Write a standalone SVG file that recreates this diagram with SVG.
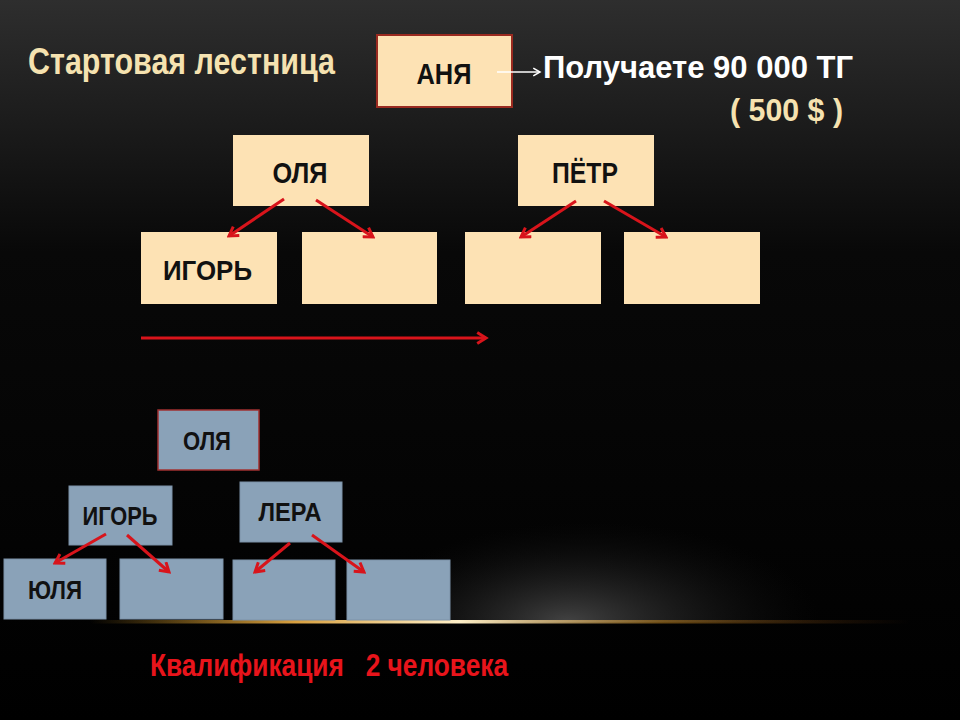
<svg xmlns="http://www.w3.org/2000/svg" width="960" height="720" viewBox="0 0 960 720">
<defs>
<linearGradient id="bg" x1="0" y1="0" x2="0" y2="1">
<stop offset="0" stop-color="#2e2e2e"/>
<stop offset="0.35" stop-color="#080808"/>
<stop offset="1" stop-color="#000"/>
</linearGradient>
<radialGradient id="glow" cx="0.5" cy="1" r="0.5" fx="0.45" fy="1">
<stop offset="0" stop-color="#4a4a4a" stop-opacity="0.9"/>
<stop offset="0.5" stop-color="#2a2a2a" stop-opacity="0.5"/>
<stop offset="1" stop-color="#111" stop-opacity="0"/>
</radialGradient>
<linearGradient id="line" x1="0" y1="0" x2="1" y2="0">
<stop offset="0" stop-color="#c8901e" stop-opacity="0"/>
<stop offset="0.25" stop-color="#d8a040"/>
<stop offset="0.45" stop-color="#fff0c8"/>
<stop offset="0.7" stop-color="#b07a20" stop-opacity="0.6"/>
<stop offset="1" stop-color="#804010" stop-opacity="0"/>
</linearGradient>
<marker id="ar" viewBox="0 0 10 10" refX="8" refY="5" markerWidth="4.5" markerHeight="4.5" orient="auto" markerUnits="strokeWidth">
<path d="M1.5,1 L8,5 L1.5,9" fill="none" stroke="#d8141b" stroke-width="2.2"/>
</marker>
<marker id="aw" viewBox="0 0 10 10" refX="8" refY="5" markerWidth="6" markerHeight="6" orient="auto" markerUnits="strokeWidth">
<path d="M1,1 L8,5 L1,9" fill="none" stroke="#fff" stroke-width="1.6"/>
</marker>
</defs>
<style>
.t{font-family:"Liberation Sans",Arial,sans-serif;font-weight:bold}
.pe{fill:#fde2b4}
.bl{fill:#8aa2b8;stroke:#7c92a8;stroke-width:1}
.nm{font-size:30px;fill:#111;text-anchor:middle}
.sm{font-size:25px;fill:#111;text-anchor:middle}
.ra{stroke:#d8141b;stroke-width:3;fill:none;marker-end:url(#ar)}
</style>
<rect width="960" height="720" fill="url(#bg)"/>
<rect x="360" y="422" width="460" height="200" fill="url(#glow)"/>
<rect x="90" y="620" width="820" height="3.5" fill="url(#line)"/>
<text class="t" x="28" y="74" font-size="37" fill="#f5e2b0" textLength="307" lengthAdjust="spacingAndGlyphs">Стартовая лестница</text>
<text class="t" x="543" y="78" font-size="31" fill="#fff" textLength="310" lengthAdjust="spacingAndGlyphs">Получаете 90 000 ТГ</text>
<text class="t" x="730" y="121" font-size="31" fill="#f5e2b0" textLength="113" lengthAdjust="spacingAndGlyphs">( 500 $ )</text>
<g id="anya"><rect x="377" y="35" width="135" height="72" class="pe" stroke="#9a2a20" stroke-width="2"/><text class="t nm" x="444" y="84" font-size="29" textLength="55" lengthAdjust="spacingAndGlyphs">АНЯ</text></g>
<g id="olya"><rect x="233" y="135" width="136" height="71" class="pe"/><text class="t nm" x="300" y="183" textLength="55" lengthAdjust="spacingAndGlyphs">ОЛЯ</text></g>
<g id="petr"><rect x="518" y="135" width="136" height="71" class="pe"/><text class="t nm" x="585" y="183" textLength="66" lengthAdjust="spacingAndGlyphs">ПЁТР</text></g>
<g id="igor"><rect x="141" y="232" width="136" height="72" class="pe"/><text class="t" x="163" y="280" font-size="28" fill="#111" textLength="89" lengthAdjust="spacingAndGlyphs">ИГОРЬ</text></g>
<g id="e1"><rect x="302" y="232" width="135" height="72" class="pe"/></g>
<g id="e2"><rect x="465" y="232" width="136" height="72" class="pe"/></g>
<g id="e3"><rect x="624" y="232" width="136" height="72" class="pe"/></g>
<g id="olya2"><rect x="158" y="410" width="101" height="60" class="bl" style="stroke:#a03030;stroke-width:1.5"/><text class="t sm" x="207" y="450" textLength="48" lengthAdjust="spacingAndGlyphs">ОЛЯ</text></g>
<g id="igor2"><rect x="69" y="486" width="103" height="59" class="bl"/><text class="t sm" x="120" y="525" textLength="75" lengthAdjust="spacingAndGlyphs">ИГОРЬ</text></g>
<g id="lera"><rect x="240" y="482" width="102" height="60" class="bl"/><text class="t sm" x="290" y="521" textLength="63" lengthAdjust="spacingAndGlyphs">ЛЕРА</text></g>
<g id="yulya"><rect x="4" y="559" width="102" height="60" class="bl"/><text class="t sm" x="55" y="599" textLength="54" lengthAdjust="spacingAndGlyphs">ЮЛЯ</text></g>
<g id="b1"><rect x="120" y="559" width="103" height="60" class="bl"/></g>
<g id="b2"><rect x="233" y="560" width="102" height="60" class="bl"/></g>
<g id="b3"><rect x="347" y="560" width="103" height="60" class="bl"/></g>
<text class="t" x="150" y="676" font-size="32" fill="#e8141b" textLength="358" lengthAdjust="spacingAndGlyphs" xml:space="preserve">Квалификация   2 человека</text>
<g id="connectors">
<line x1="497" y1="72" x2="540" y2="72" stroke="#fff" stroke-width="1.6" marker-end="url(#aw)"/>
<line class="ra" x1="284" y1="199" x2="229" y2="236"/>
<line class="ra" x1="316" y1="200" x2="373" y2="237"/>
<line class="ra" x1="576" y1="201" x2="521" y2="237"/>
<line class="ra" x1="604" y1="201" x2="666" y2="237"/>
<line class="ra" x1="141" y1="338" x2="486" y2="338"/>
<line class="ra" x1="106" y1="534" x2="55" y2="563"/>
<line class="ra" x1="127" y1="535" x2="169" y2="572"/>
<line class="ra" x1="290" y1="543" x2="255" y2="572"/>
<line class="ra" x1="312" y1="535" x2="364" y2="572"/>
</g>
</svg>
